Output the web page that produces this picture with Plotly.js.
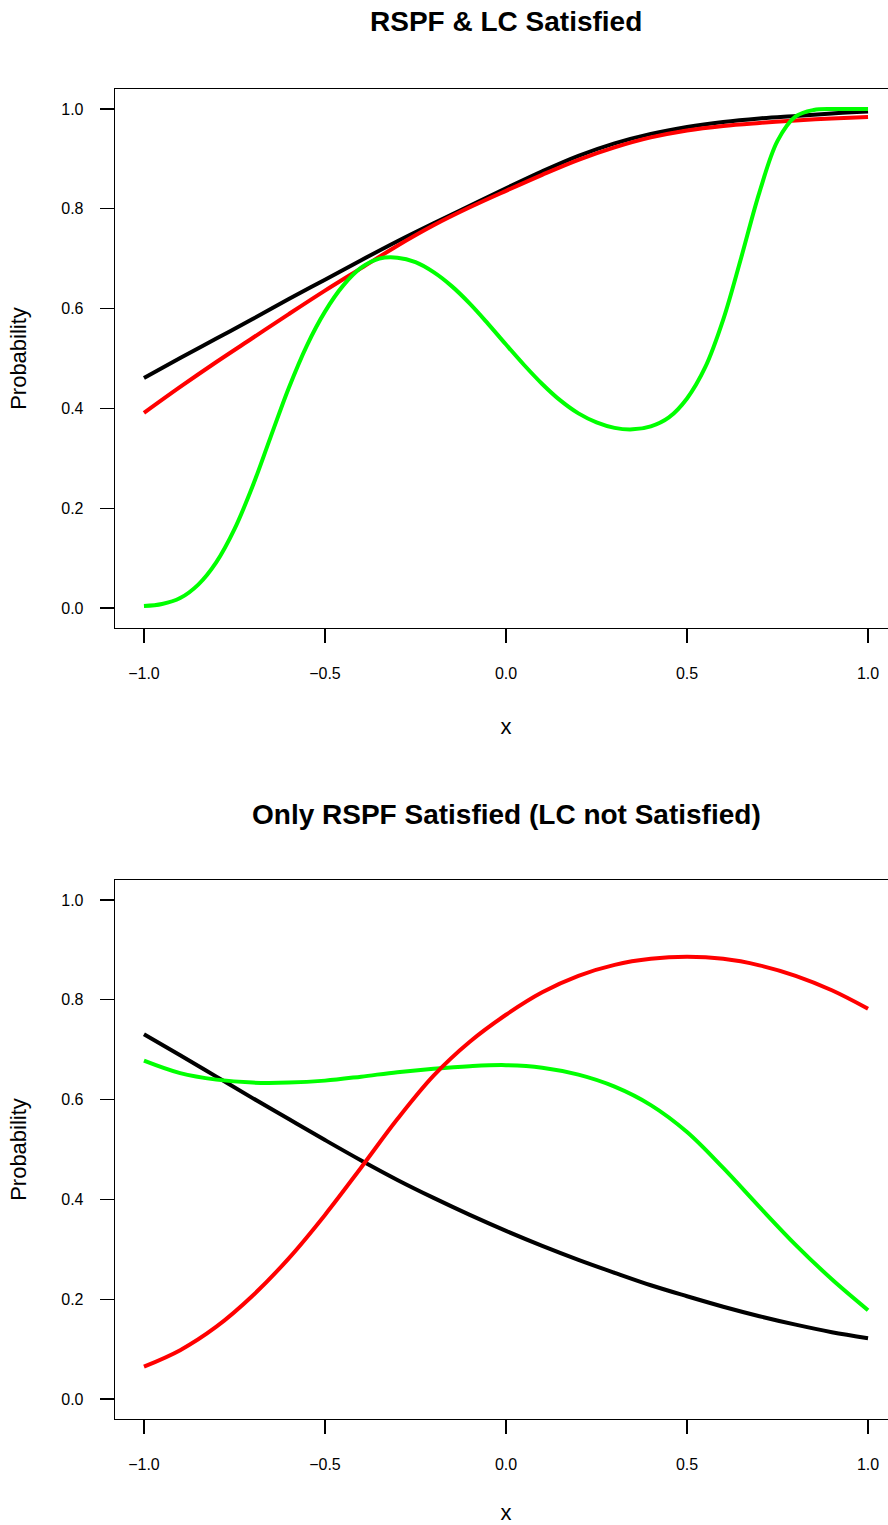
<!DOCTYPE html>
<html>
<head>
<meta charset="utf-8">
<script src="https://cdn.plot.ly/plotly-3.0.1.min.js"></script>
<style>
html, body { margin: 0; padding: 0; overflow: hidden; background: #fff; }
#chart { width: 900px; height: 1525px; }
</style>
</head>
<body>
<div id="chart"></div>
<script>
// ---- Shared x grids ----
const xGrid = [-1, -0.9, -0.8, -0.7, -0.6, -0.5, -0.4, -0.3, -0.2, -0.1, 0, 0.1, 0.2, 0.3, 0.4, 0.5, 0.6, 0.7, 0.8, 0.9, 1];
const xFine = [-1, -0.95, -0.9, -0.85, -0.8, -0.75, -0.7, -0.65, -0.6, -0.55, -0.5, -0.45, -0.4, -0.35, -0.3, -0.25, -0.2, -0.15, -0.1, -0.05, 0,
               0.05, 0.1, 0.15, 0.2, 0.25, 0.3, 0.35, 0.4, 0.45, 0.5, 0.55, 0.6, 0.65, 0.7, 0.75, 0.8, 0.85, 0.9, 0.95, 1];

// ---- Data: top panel "RSPF & LC Satisfied" ----
const topBlackY = [0.461, 0.501, 0.540, 0.579, 0.619, 0.658, 0.697, 0.735, 0.771, 0.806, 0.841,
                   0.875, 0.906, 0.931, 0.950, 0.964, 0.974, 0.981, 0.986, 0.991, 0.995];
const topRedY   = [0.391, 0.443, 0.493, 0.541, 0.589, 0.636, 0.681, 0.726, 0.767, 0.803, 0.836,
                   0.868, 0.898, 0.923, 0.943, 0.957, 0.966, 0.972, 0.977, 0.981, 0.984];
const topGreenY = [0.004, 0.008, 0.020, 0.047, 0.092, 0.158, 0.244, 0.343, 0.441, 0.526, 0.594,
                   0.646, 0.682, 0.700, 0.702, 0.693, 0.673, 0.645, 0.610, 0.570, 0.528,
                   0.487, 0.449, 0.416, 0.390, 0.372, 0.361, 0.358, 0.364, 0.382, 0.420,
                   0.482, 0.578, 0.703, 0.833, 0.936, 0.985, 0.998, 1.000, 1.000, 1.000];

// ---- Data: bottom panel "Only RSPF Satisfied (LC not Satisfied)" ----
const botBlackY = [0.731, 0.689, 0.646, 0.603, 0.561, 0.519, 0.478, 0.439, 0.403, 0.369, 0.337,
                   0.307, 0.279, 0.253, 0.228, 0.206, 0.185, 0.166, 0.149, 0.134, 0.122];
const botGreenY = [0.678, 0.653, 0.640, 0.634, 0.634, 0.638, 0.646, 0.655, 0.662, 0.667, 0.669,
                   0.664, 0.650, 0.626, 0.589, 0.535, 0.463, 0.385, 0.309, 0.240, 0.178];
const botRedY   = [0.065, 0.098, 0.145, 0.207, 0.282, 0.369, 0.464, 0.561, 0.648, 0.716, 0.770,
                   0.815, 0.848, 0.870, 0.882, 0.886, 0.882, 0.869, 0.848, 0.819, 0.782];

const xTicks = [-1, -0.5, 0, 0.5, 1];
const yTicks = [0, 0.2, 0.4, 0.6, 0.8, 1.0];
const titles = ["RSPF & LC Satisfied", "Only RSPF Satisfied (LC not Satisfied)"];

function line(x, y, color, xa, ya) {
  return {x: x, y: y, type: 'scatter', mode: 'lines', xaxis: xa, yaxis: ya,
          line: {color: color, width: 4, shape: 'spline', smoothing: 1}, hoverinfo: 'skip', showlegend: false};
}

const data = [
  line(xGrid, topBlackY, '#000000', 'x', 'y'),
  line(xGrid, topRedY, '#ff0000', 'x', 'y'),
  line(xFine, topGreenY, '#00ff00', 'x', 'y'),
  line(xGrid, botBlackY, '#000000', 'x2', 'y2'),
  line(xGrid, botGreenY, '#00ff00', 'x2', 'y2'),
  line(xGrid, botRedY, '#ff0000', 'x2', 'y2')
];

const H = 1525;
function xaxis(anchor) {
  return {anchor: anchor, domain: [0, 1], range: [-1.08, 1.08], tickvals: xTicks, tickformat: '.1f',
          ticks: 'outside', ticklen: 14, tickwidth: 1.3, tickcolor: '#000', showline: true, mirror: true,
          linecolor: '#000', linewidth: 1.3, showgrid: false, zeroline: false, ticklabelstandoff: 16,
          tickfont: {size: 16, color: '#000'},
          title: {text: 'x', font: {size: 22, color: '#000'}, standoff: 38}};
}
function yaxis(anchor, dom) {
  return {anchor: anchor, domain: dom, range: [-0.04, 1.04], tickvals: yTicks, tickformat: '.1f',
          ticks: 'outside', ticklen: 14, tickwidth: 1.3, tickcolor: '#000', showline: true, mirror: true,
          linecolor: '#000', linewidth: 1.3, showgrid: false, zeroline: false, ticklabelstandoff: 13,
          tickfont: {size: 16, color: '#000'},
          title: {text: 'Probability', font: {size: 22, color: '#000'}, standoff: 28}};
}

const layout = {
  width: 900, height: H,
  margin: {l: 115, r: 3, t: 0, b: 0},
  paper_bgcolor: '#fff', plot_bgcolor: '#fff',
  font: {family: 'Liberation Sans, Arial, sans-serif', color: '#000'},
  xaxis: xaxis('y'),
  yaxis: yaxis('x', [1 - 628 / H, 1 - 89 / H]),
  xaxis2: xaxis('y2'),
  yaxis2: yaxis('x2', [1 - 1419 / H, 1 - 880 / H]),
  annotations: [
    {text: '<b>' + titles[0] + '</b>', xref: 'paper', yref: 'paper', x: 391 / 782, y: 1 - 22 / H,
     xanchor: 'center', yanchor: 'middle', showarrow: false, font: {size: 28, color: '#000'}},
    {text: '<b>' + titles[1] + '</b>', xref: 'paper', yref: 'paper', x: 391 / 782, y: 1 - 814 / H,
     xanchor: 'center', yanchor: 'middle', showarrow: false, font: {size: 28, color: '#000'}}
  ]
};

Plotly.newPlot('chart', data, layout, {staticPlot: true, displayModeBar: false});
</script>
</body>
</html>
